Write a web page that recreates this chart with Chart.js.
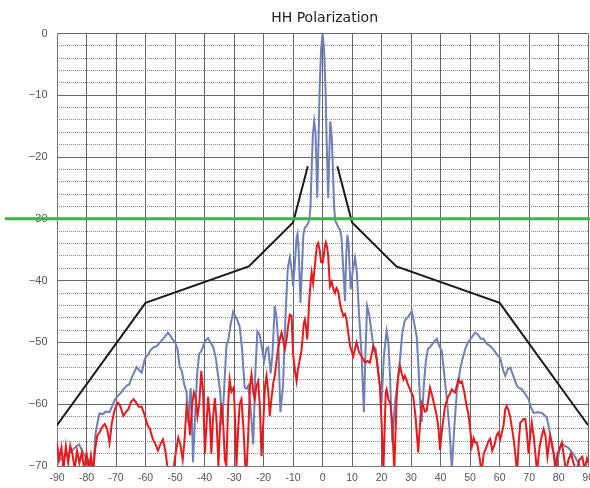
<!DOCTYPE html>
<html>
<head>
<meta charset="utf-8">
<script src="https://cdn.jsdelivr.net/npm/chart.js@4.4.1/dist/chart.umd.min.js"></script>
<style>
  html, body { margin: 0; padding: 0; background: #fff; overflow: hidden; }
  #wrap { width: 600px; height: 488px; }
</style>
</head>
<body>
<div id="wrap"><canvas id="chart" width="600" height="488"></canvas></div>
<script>
// angle (deg), level (dB)
const copolPoints = [
  [-90,-69.5],[-88,-68.5],[-86,-68.0],[-84.5,-67.3],[-83.5,-66.8],[-82.5,-66.5],[-81.5,-67.5],[-80.5,-68.5],
  [-79.5,-68.9],[-78.5,-69.8],[-77.8,-71],[-77,-65],[-76.5,-63.5],[-75.6,-61.5],[-74.5,-61.6],[-73.5,-61.2],
  [-72.2,-61.3],[-71.2,-60.2],[-70.4,-59.3],[-69.4,-58.7],[-68.5,-58.2],[-67.5,-57.6],[-66.3,-57.0],[-65.5,-56.8],
  [-64.5,-55.5],[-63,-54],[-62,-54.6],[-61.3,-54.9],[-60.2,-52.6],[-59.2,-52.0],[-58.2,-51.2],[-57.3,-50.8],
  [-56.2,-50.6],[-55.1,-50.0],[-54.0,-49.4],[-53.2,-48.9],[-52.4,-48.4],[-51.6,-48.9],[-50.7,-49.6],[-50,-50],
  [-49.2,-51],[-48.4,-54],[-47.7,-54.6],[-46.8,-57],[-46.1,-58],[-45.5,-63],[-45.1,-60],[-44.7,-57.4],
  [-44.3,-62],[-43.9,-69.4],[-43.2,-62],[-42.5,-55],[-41.8,-51.8],[-41.1,-51.4],[-40.3,-50.4],[-39.5,-49.6],
  [-38.8,-49.3],[-38,-50],[-37.1,-50.7],[-36.2,-52.5],[-35.4,-55.4],[-34.7,-58],[-34.0,-63.3],[-33.3,-57],
  [-32.6,-50.6],[-31.9,-49.5],[-31.2,-47.2],[-30.3,-45.0],[-29.5,-45.8],[-28.8,-46.5],[-28.1,-47.4],[-27.3,-51],
  [-26.4,-57.3],[-25.8,-57.5],[-25.2,-57],[-24.5,-60],[-23.5,-66.5],[-22.8,-55],[-22.1,-48.2],[-21.3,-48.8],
  [-20.5,-51],[-19.8,-53],[-19,-51],[-18.4,-50.8],[-17.6,-55],[-17,-52],[-16.2,-44.1],[-15.6,-46],
  [-15,-50],[-14.3,-61.3],[-13.4,-57],[-12.5,-45],[-11.8,-38],[-11.1,-36.2],[-10.4,-38.5],[-10,-40.9],
  [-9.5,-38],[-8.8,-33],[-8.5,-32.4],[-8.1,-35],[-7.5,-43.6],[-7,-38],[-6.5,-32.5],[-6,-31.4],
  [-5.5,-31.2],[-5,-30.8],[-4.5,-30.2],[-4.1,-28],[-3.7,-22],[-3.3,-16.5],[-2.85,-14.2],[-2.4,-16],
  [-2.1,-21],[-1.8,-26.6],[-1.4,-18],[-1,-9],[-0.5,-2.5],[0,0],[0.5,-2.5],[1,-9],
  [1.4,-18],[1.9,-26.6],[2.2,-21],[2.6,-14.2],[3.1,-16.5],[3.5,-22],[3.9,-28],[4.3,-30.3],
  [4.8,-30.8],[5.4,-31.4],[5.9,-31.7],[6.4,-33],[7,-38],[7.6,-43.3],[8,-36],[8.4,-32.6],
  [8.8,-34],[9.5,-41.4],[10.2,-38.5],[11,-36.3],[11.6,-38.5],[12.3,-45],[13.2,-52],[14,-61.3],
  [14.5,-52],[15.1,-44.1],[15.8,-45.5],[16.5,-48],[17.2,-50.6],[18,-51],[18.7,-54],[19.4,-57],
  [20,-59.7],[20.8,-52],[21.7,-48.2],[22.3,-50],[22.9,-56],[23.6,-66.2],[24.5,-60],[25.3,-57],
  [26,-54],[27,-48.5],[27.9,-46.4],[28.8,-46],[29.5,-45.5],[30.2,-44.9],[30.9,-46.5],[31.9,-49.1],
  [32.6,-55],[33.1,-60],[33.6,-62.9],[34.3,-57],[35,-53],[35.7,-51],[36.4,-50.8],[37.3,-50.2],
  [38.0,-49.8],[38.7,-49.4],[39.5,-50.5],[40.4,-51.4],[41.2,-55],[42.1,-59.2],[43,-64],[43.8,-70.5],
  [44.6,-64],[45.5,-58],[46.6,-54.4],[47.5,-52.5],[48.3,-51.1],[49.3,-50],[50.5,-49.2],[51.7,-48.4],
  [52.6,-48.7],[53.6,-49.4],[54.5,-49.4],[55.6,-50.2],[56.8,-50.6],[58,-51.2],[59.2,-52],[60.2,-52.5],
  [61.2,-54.5],[61.9,-55.4],[62.8,-54.3],[63.6,-54.1],[64.7,-55.5],[65.8,-57],[66.7,-57.4],[67.5,-57.6],
  [68.6,-58.3],[69.8,-59.2],[70.6,-60.5],[71.5,-61.4],[72.9,-61.3],[74.3,-61.4],[75.2,-61.8],[76,-62.2],
  [76.8,-64],[77.7,-66.8],[78.6,-68.5],[79.4,-70],[80.2,-67.5],[81,-66.3],[82.2,-66.8],[83.2,-67],
  [84.5,-67.8],[85.5,-68.5],[86.7,-69.5],[88,-71],[90,-71]
];

const xpolPoints = [
  [-90,-66.2],[-89.3,-69],[-88.5,-67],[-87.8,-70.5],[-87,-66.8],[-86.2,-69.5],[-85.5,-66.7],[-84.8,-68],
  [-84,-70.5],[-83.2,-67.5],[-82.4,-69.5],[-81.6,-67.8],[-80.8,-70.5],[-80,-68],[-79.2,-70.5],[-78.5,-68.3],
  [-77.8,-71],[-77,-67],[-76.3,-65],[-75.5,-64.5],[-74.6,-63.6],[-73.8,-63.2],[-73,-64],[-72.2,-66.3],
  [-71.4,-63],[-70.4,-60.8],[-69.4,-59.8],[-68.7,-60.1],[-67.5,-61.9],[-66.6,-61.2],[-65.8,-60.8],[-64.9,-59.6],
  [-64.1,-59.2],[-63.2,-59.7],[-62.3,-60.4],[-61.3,-60.4],[-60.2,-61.9],[-59.4,-63.3],[-58.5,-64],[-57.5,-65.7],
  [-56.6,-66.5],[-55.8,-67.5],[-55,-66.5],[-54.1,-65.7],[-53.3,-67.5],[-52.6,-70],[-51.8,-71.5],[-50.8,-71.5],
  [-49.8,-68],[-48.9,-65.4],[-48.2,-66.5],[-47.4,-69],[-46.8,-66],[-46.1,-60.4],[-45.5,-62],[-44.9,-65],
  [-44.2,-60],[-43.6,-58.1],[-43,-59],[-42.4,-62],[-41.8,-60],[-41.1,-54.6],[-40.5,-58],[-39.9,-68],
  [-39.3,-63],[-38.8,-58.8],[-38.2,-62],[-37.7,-68],[-37.1,-62],[-36.5,-59],[-35.9,-63],[-35.3,-70],
  [-34.8,-64],[-34.3,-59.8],[-33.7,-63],[-33.1,-69],[-32.6,-70],[-32,-60],[-31.5,-56],[-30.9,-58],
  [-30.1,-57.3],[-29.6,-63],[-29.2,-70],[-28.6,-64],[-28.1,-60],[-27.5,-59.2],[-26.8,-64],[-26.2,-70],
  [-25.8,-71],[-25.2,-65],[-24.6,-57],[-24.1,-55.2],[-23.5,-58],[-23,-59.2],[-22.4,-57],[-21.8,-56.3],
  [-21.3,-60],[-20.7,-68.4],[-20.1,-63],[-19.5,-57],[-19,-55.4],[-18.4,-58],[-17.9,-61.9],[-17.3,-59],
  [-16.7,-56.5],[-16.2,-55.4],[-15.6,-53],[-15.1,-51.1],[-14.5,-49.5],[-13.9,-48.4],[-13.4,-49.5],[-12.8,-51.1],
  [-12.2,-49.5],[-11.7,-47.4],[-11.1,-45.5],[-10.5,-45.7],[-10,-51.9],[-9.4,-54.5],[-8.8,-56.3],[-8.4,-54.5],
  [-8,-53.5],[-7.7,-52.7],[-7.2,-51.5],[-6.8,-49.5],[-6.4,-47],[-6,-46.3],[-5.6,-47.5],[-5.2,-49.5],
  [-4.8,-46],[-4.5,-43],[-4.1,-40.5],[-3.7,-38.7],[-3.2,-40.4],[-2.8,-38.5],[-2.3,-36],[-1.9,-34.3],
  [-1.5,-33.9],[-1,-35],[-0.5,-37],[0,-37.1],[0.4,-36],[0.8,-34.3],[1.1,-33.8],[1.5,-34.5],
  [1.9,-36],[2.5,-40.9],[3.1,-40.2],[3.6,-41.3],[4.2,-42],[4.7,-41.2],[5.3,-41.7],[6,-44],
  [7,-45.7],[7.6,-45.4],[8.1,-46.3],[8.7,-48.5],[9.3,-50.6],[10.4,-52.2],[11,-51],[11.5,-50],
  [12.3,-51.5],[13.2,-52.2],[14.4,-53.3],[15.2,-53],[16,-53.3],[16.6,-52],[17.2,-50.6],[17.8,-51.5],
  [18.3,-52.7],[18.9,-55],[19.4,-57],[20,-63],[20.6,-71],[21.4,-58.1],[21.7,-57.6],[22.3,-59.2],
  [23,-60],[23.6,-63],[24.3,-71],[25.1,-59],[25.6,-55.5],[26.2,-53.8],[26.8,-55],[27.4,-56],
  [27.9,-55.4],[28.7,-56.5],[29.6,-57.6],[30.7,-58.7],[31.5,-62],[32.4,-67.8],[33.2,-62],[33.6,-59.8],
  [34.1,-60.3],[34.7,-61.2],[35.3,-61],[35.9,-59],[36.4,-57.3],[37.1,-58.5],[37.8,-60],[38.7,-61.9],
  [39.3,-64],[39.8,-67.4],[40.5,-64],[41.5,-60.3],[42.6,-58.7],[43.2,-58.3],[43.8,-57.6],[44.3,-57.9],
  [44.9,-58.1],[45.5,-57],[46,-56],[46.6,-56.5],[47.2,-56.3],[48,-58],[48.9,-60.5],[49.4,-61.5],
  [50,-64],[50.6,-66.8],[51.2,-65.5],[51.7,-66.2],[52.3,-66.2],[53,-68],[53.9,-71],[54.6,-68],
  [55.5,-67],[56.2,-66],[56.8,-65.6],[57.5,-67.5],[58.3,-66.5],[59,-65],[59.6,-64.6],[60.2,-65.7],
  [61.3,-63.5],[61.9,-60.8],[62.4,-60.3],[63,-61],[63.6,-62.1],[64.2,-64],[64.7,-65.5],[65.3,-68],
  [65.9,-71],[66.5,-66],[67,-63],[67.6,-62.7],[68.1,-62.4],[68.7,-62.4],[69.3,-65],[69.8,-68],
  [70.4,-65],[70.9,-63],[71.5,-65],[72.1,-68],[72.7,-71],[73.5,-67],[74.3,-65.1],[74.9,-64],
  [75.5,-65],[76.2,-68.5],[77.1,-65.1],[77.7,-66.2],[78.3,-68],[79,-71],[79.6,-68],[80.5,-67],
  [81.1,-66.2],[81.8,-68.5],[82.5,-71],[83.3,-69],[84.2,-68],[85,-69.5],[86,-71],[87,-69],
  [88,-68.5],[88.8,-70.5],[89.6,-68.8],[90,-69.5]
];

// envelope, broken at the main beam
const maskPoints = [
  [-90,-63.4],[-60,-43.6],[-25,-37.7],[-10,-30.6],[-5,-21.5],[0,null],
  [5,-21.5],[10,-30.6],[25,-37.7],[60,-43.6],[90,-63.4]
];

const specLevel = -30;
const chartTitle = 'HH Polarization';

const toXY = pts => pts.map(([x, y]) => ({ x, y }));
const FONT = 'Liberation Sans, Arial, sans-serif';

// green limit line runs out past the axis labels
const specLine = {
  id: 'specLine',
  afterDatasetsDraw(chart) {
    const { ctx, scales: { y } } = chart;
    const py = y.getPixelForValue(specLevel);
    ctx.save();
    ctx.strokeStyle = '#3cb44b';
    ctx.lineWidth = 3;
    ctx.beginPath();
    ctx.moveTo(5, py);
    ctx.lineTo(chart.width, py);
    ctx.stroke();
    ctx.restore();
  }
};

// title centred over the plot area rather than the canvas
const plotTitle = {
  id: 'plotTitle',
  afterDraw(chart) {
    const { ctx, chartArea } = chart;
    ctx.save();
    ctx.fillStyle = '#222';
    ctx.font = '14px "DejaVu Sans", sans-serif';
    ctx.textAlign = 'center';
    ctx.textBaseline = 'middle';
    ctx.fillText(chartTitle, (chartArea.left + chartArea.right) / 2 + 2, 18);
    ctx.restore();
  }
};

new Chart(document.getElementById('chart'), {
  type: 'line',
  data: {
    datasets: [
      { label: 'Mask', data: toXY(maskPoints), borderColor: '#1a1a1a', borderWidth: 2, spanGaps: false, order: 0 },
      { label: 'Cross-pol', data: toXY(xpolPoints), borderColor: '#e8191c', borderWidth: 2, order: 1 },
      { label: 'Co-pol', data: toXY(copolPoints), borderColor: '#6f80b8', borderWidth: 2, order: 2 }
    ]
  },
  options: {
    responsive: false,
    animation: false,
    layout: { padding: { right: 0, left: 0, top: 33.5, bottom: 0 } },
    elements: { point: { radius: 0 }, line: { tension: 0 } },
    plugins: {
      legend: { display: false },
      tooltip: { enabled: false },
      title: { display: false }
    },
    scales: {
      x: {
        type: 'linear',
        min: -90, max: 90,
        ticks: { stepSize: 10, color: '#555', padding: 6, font: { family: FONT, size: 10.5 } },
        grid: { color: '#666', drawTicks: false },
        border: { color: '#777' },
        afterFit: s => { s.height = 22; }
      },
      y2: {
        type: 'linear',
        position: 'left',
        min: -70, max: 0,
        ticks: { stepSize: 2, display: false },
        grid: { color: '#8a8a8a', drawTicks: false },
        border: { display: false, dash: [1, 1] },
        afterFit: s => { s.width = 0; }
      },
      y: {
        type: 'linear',
        position: 'left',
        min: -70, max: 0,
        ticks: {
          stepSize: 10, color: '#555', padding: 9.5,
          font: { family: FONT, size: 11 },
          callback: v => v < 0 ? '\u2212' + Math.abs(v) : String(v)
        },
        grid: { color: '#666', drawTicks: false },
        border: { color: '#777' },
        afterFit: s => { s.width = 57; }
      }
    }
  },
  plugins: [specLine, plotTitle]
});
</script>
</body>
</html>
